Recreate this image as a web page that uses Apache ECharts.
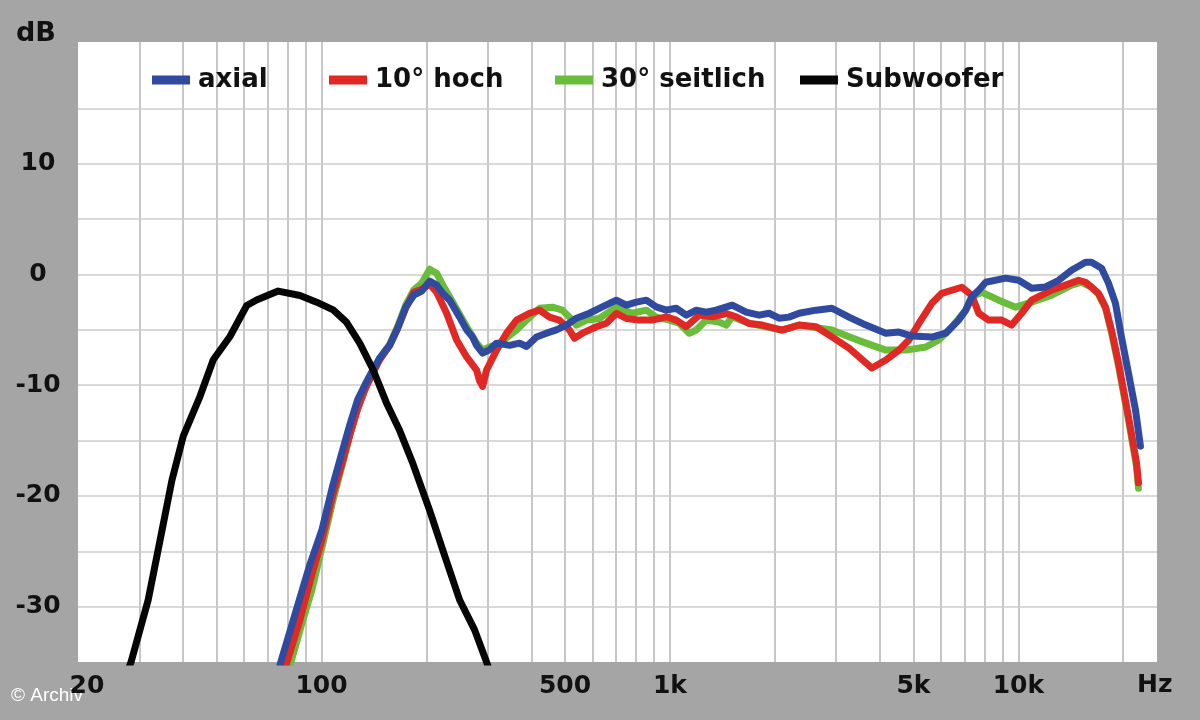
<!DOCTYPE html>
<html><head><meta charset="utf-8">
<script src="https://cdn.jsdelivr.net/npm/echarts@6/dist/echarts.min.js"></script>
<style>html,body{margin:0;padding:0;background:#a5a5a5;} #c{width:1200px;height:720px;}</style>
</head><body><div id="c"></div>
<script>
// ---- axis / tick data ----
const xLabelValues = [20, 100, 500, 1000, 5000, 10000];
const yLabelValues = [10, 0, -10, -20, -30];
const xGridValues = [30,40,50,60,70,80,90,100,200,300,400,500,600,700,800,900,1000,2000,3000,4000,5000,6000,7000,8000,9000,10000,20000];
const yGridValues = [15,10,5,0,-5,-10,-15,-20,-25,-30];
const seriesNames = ['axial', '10° hoch', '30° seitlich', 'Subwoofer'];

// ---- series data: [frequency Hz, level dB] ----
const axial = [[75,-36],[76.4,-35],[83.9,-30.7],[92.6,-26.2],[100.2,-23.1],[107.8,-19.0],[115.1,-15.8],[120.5,-13.6],[127,-11.3],[133.1,-10.0],[139.4,-8.8],[146.9,-7.55],[156.9,-6.4],[165.4,-4.85],[174.4,-2.95],[183.9,-1.87],[193.9,-1.5],[204.3,-0.6],[214,-0.96],[222.7,-1.7],[233.2,-2.32],[249.1,-3.85],[260.9,-5.0],[271.3,-5.65],[278.6,-6.4],[289.9,-7.1],[303.5,-6.8],[318,-6.2],[346.4,-6.4],[370,-6.2],[387.6,-6.5],[414,-5.65],[442.2,-5.3],[472.4,-5.0],[504.6,-4.57],[539,-3.95],[587.1,-3.5],[639.7,-2.92],[701.7,-2.32],[749.6,-2.77],[800.6,-2.5],[855.3,-2.32],[913.5,-2.92],[975.9,-3.22],[1042,-3.05],[1114,-3.67],[1190,-3.22],[1271,-3.4],[1357,-3.22],[1509,-2.77],[1655,-3.4],[1803,-3.67],[1925,-3.5],[2057,-3.95],[2197,-3.85],[2347,-3.5],[2626,-3.22],[2917,-3.05],[3265,-3.85],[3651,-4.57],[4167,-5.3],[4540,-5.2],[4947,-5.56],[5645,-5.65],[6191,-5.3],[6441,-4.75],[6744,-4.12],[7063,-3.22],[7348,-2.02],[7695,-1.42],[8059,-0.7],[9195,-0.33],[10020,-0.52],[10920,-1.24],[11970,-1.12],[13050,-0.52],[14210,0.39],[15590,1.1],[16220,1.1],[17330,0.57],[18140,-0.78],[19000,-2.6],[19770,-5.65],[20700,-8.9],[21680,-12.2],[22410,-15.5]];

const hoch10 = [[78,-36],[79.6,-35],[86.7,-31.2],[93.8,-27.1],[100.2,-24.0],[107.8,-19.9],[115.1,-16.8],[120.5,-14.5],[127,-12.1],[133.1,-10.4],[139.4,-9.1],[146.9,-7.7],[156.9,-6.4],[165.4,-4.85],[174.4,-3.05],[183.9,-1.6],[193.9,-1.33],[204.3,-0.87],[214,-1.6],[228.6,-3.5],[244.2,-5.92],[260.9,-7.45],[278.6,-8.63],[284.2,-9.6],[289.9,-10.1],[297.6,-8.63],[318,-6.83],[339.6,-5.3],[362.8,-4.12],[395.3,-3.5],[422.3,-3.22],[451.1,-3.85],[481.8,-4.12],[514.7,-5.02],[531.9,-5.75],[560.9,-5.3],[615,-4.72],[656.9,-4.4],[701.7,-3.52],[749.6,-3.97],[816.6,-4.12],[889.8,-4.12],[975.9,-3.82],[1042,-4.12],[1114,-4.72],[1213,-3.67],[1322,-3.82],[1450,-3.52],[1549,-3.82],[1688,-4.42],[1839,-4.57],[2098,-5.02],[2347,-4.57],[2626,-4.72],[2917,-5.63],[3265,-6.65],[3799,-8.45],[4167,-7.73],[4540,-6.83],[4850,-5.92],[5181,-4.42],[5645,-2.6],[6030,-1.7],[6441,-1.42],[6879,-1.15],[7348,-1.87],[7695,-3.5],[8220,-4.12],[8955,-4.12],[9568,-4.57],[10220,-3.5],[10920,-2.32],[12460,-1.42],[13660,-0.96],[14890,-0.52],[15590,-0.7],[16220,-1.15],[16990,-1.7],[17790,-2.95],[18500,-5.02],[19390,-8.0],[20700,-12.84],[21830,-17.0],[22120,-18.8]];

const seitlich30 = [[80,-36],[81.7,-35],[88.4,-31.2],[93.8,-28.5],[100.2,-24.7],[107.8,-20.4],[115.1,-17.0],[120.5,-14.5],[127,-12.1],[133.1,-10.4],[139.4,-9.0],[146.9,-7.55],[156.9,-6.3],[165.4,-4.7],[174.4,-2.77],[183.9,-1.42],[193.9,-0.78],[204.3,0.48],[214,0.12],[222.7,-0.96],[233.2,-2.02],[260.9,-4.72],[278.6,-6.2],[289.9,-6.83],[303.5,-6.55],[324.3,-6.2],[362.8,-5.02],[387.6,-4.12],[422.3,-3.05],[460.1,-2.95],[491.4,-3.22],[514.7,-3.85],[539,-4.57],[575.6,-4.12],[627.2,-3.97],[701.7,-2.95],[779.8,-3.5],[855.3,-3.22],[913.5,-3.85],[995.4,-4.12],[1063,-4.4],[1136,-5.3],[1190,-5.02],[1271,-4.12],[1385,-4.3],[1450,-4.57],[1509,-3.82],[1688,-4.42],[1888,-4.72],[2098,-5.02],[2347,-4.57],[2917,-5.02],[3265,-5.63],[3651,-6.2],[4167,-6.83],[4754,-6.83],[5426,-6.55],[5911,-5.92],[6441,-4.75],[7063,-3.22],[7348,-2.02],[7849,-1.6],[8781,-2.32],[9824,-2.95],[10920,-2.5],[12460,-1.87],[14210,-0.96],[15190,-0.7],[16220,-1.15],[16990,-1.8],[17790,-3.05],[18500,-5.2],[19390,-8.3],[20700,-13.1],[21830,-17.3],[22120,-19.3]];

const subwoofer = [[27.5,-36.2],[28.4,-35],[31.8,-29.4],[34.4,-24.0],[37.2,-18.6],[40.1,-14.6],[44.8,-11.0],[48.9,-7.7],[54.6,-5.6],[61.0,-2.8],[65.1,-2.3],[75.1,-1.5],[86.7,-1.9],[96.8,-2.5],[108,-3.2],[117.9,-4.3],[128.7,-6.2],[140.6,-8.6],[153.6,-11.6],[167.6,-14.1],[183,-17.1],[204.3,-21.3],[225.6,-25.4],[249.1,-29.4],[275,-32.1],[297.6,-35],[305,-36]];

const colors = { axial: '#2f4a9f', hoch: '#e02925', seit: '#6abd3a', sub: '#050505' };

const FONT = 'DejaVu Sans';
const chart = echarts.init(document.getElementById('c'), null, { renderer: 'canvas' });

function lineSeries(name, data, color, z) {
  return {
    name, type: 'line', data, z, color,
    showSymbol: false, symbol: 'none', smooth: false, animation: false,
    lineStyle: { width: 7, color, cap: 'round', join: 'round' },
    emphasis: { disabled: true }
  };
}
function legendAt(name, left) {
  return {
    data: [name], left, top: 66, padding: 0, itemGap: 0,
    icon: 'rect', itemWidth: 38, itemHeight: 9, selectedMode: false,
    textStyle: { fontFamily: FONT, fontWeight: 'bold', fontSize: 26, color: '#111', lineHeight: 28, padding: [0, 0, 0, 3] }
  };
}
const fmtX = v => v === 20 ? '{first|20}' : (v >= 1000 ? (v / 1000) + 'k' : String(v));

chart.setOption({
  backgroundColor: '#a5a5a5',
  animation: false,
  grid: { left: 78, right: 43, top: 42, bottom: 58, show: true, backgroundColor: '#ffffff', borderWidth: 0 },
  legend: [
    legendAt(seriesNames[0], 152),
    legendAt(seriesNames[1], 329),
    legendAt(seriesNames[2], 555),
    legendAt(seriesNames[3], 800)
  ],
  xAxis: {
    type: 'log', logBase: 10, min: 20, max: 25000,
    axisLine: { show: false }, axisTick: { show: false }, splitLine: { show: false },
    axisLabel: {
      customValues: xLabelValues, formatter: fmtX, margin: 12,
      fontFamily: FONT, fontWeight: 'bold', fontSize: 25, color: '#111',
      rich: { first: { fontFamily: FONT, fontWeight: 'bold', fontSize: 25, color: '#111', padding: [0, 0, 0, 18] } }
    }
  },
  yAxis: {
    type: 'value', min: -35, max: 21,
    axisLine: { show: false }, axisTick: { show: false }, splitLine: { show: false },
    axisLabel: {
      customValues: yLabelValues, align: 'center', margin: 40,
      fontFamily: FONT, fontWeight: 'bold', fontSize: 25, color: '#111'
    }
  },
  graphic: [
    { type: 'text', left: 16, top: 20, style: { text: 'dB', font: 'bold 27px "DejaVu Sans"', fill: '#111' } },
    { type: 'text', left: 1137, top: 673, style: { text: 'Hz', font: 'bold 25px "DejaVu Sans"', fill: '#111' } },
    { type: 'text', left: 11, top: 686, style: { text: '© Archiv', font: '19px "Liberation Sans"', fill: '#ffffff', shadowColor: 'rgba(0,0,0,0.9)', shadowBlur: 3 } }
  ],
  series: [
    {
      name: 'grid', type: 'line', data: [], z: 1, silent: true,
      markLine: {
        z: 1, silent: true, symbol: ['none', 'none'], animation: false,
        label: { show: false }, emphasis: { disabled: true },
        data: xGridValues.map(v => ({ xAxis: v, lineStyle: { color: '#b9b9b9', width: 1.6, type: 'solid' } }))
          .concat(yGridValues.map(v => ({ yAxis: v, lineStyle: { color: '#cdcdcd', width: 1.6, type: 'solid' } })))
      }
    },
    lineSeries(seriesNames[2], seitlich30, colors.seit, 2),
    lineSeries(seriesNames[1], hoch10, colors.hoch, 3),
    lineSeries(seriesNames[0], axial, colors.axial, 4),
    lineSeries(seriesNames[3], subwoofer, colors.sub, 5)
  ]
});
</script></body></html>
